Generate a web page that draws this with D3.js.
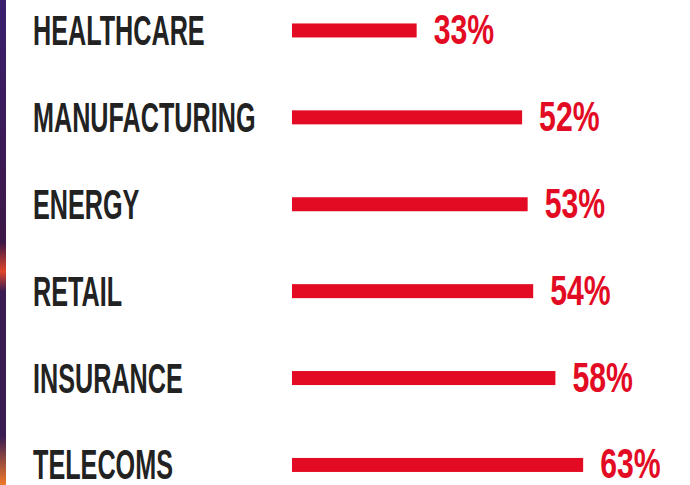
<!DOCTYPE html>
<html>
<head>
<meta charset="utf-8">
<script src="https://cdn.jsdelivr.net/npm/d3@7"></script>
<style>
  body { margin: 0; background: #fff; }
  svg text { font-family: "Liberation Sans", sans-serif; font-weight: bold; }
</style>
</head>
<body>
<svg id="chart"></svg>
<script>
// secteurs et pourcentages
const sectors = ["HEALTHCARE", "MANUFACTURING", "ENERGY", "RETAIL", "INSURANCE", "TELECOMS"];
const values = [33, 52, 53, 54, 58, 63];

const width = 690, height = 485;

const svg = d3.select("#chart")
  .attr("width", width)
  .attr("height", height);

// bande sombre à gauche (bord de l'image de fond)
const grad = svg.append("defs").append("linearGradient")
  .attr("id", "edge").attr("x1", 0).attr("x2", 0).attr("y1", 0).attr("y2", 1);
grad.append("stop").attr("offset", "0%").attr("stop-color", "#3a1f6e");
grad.append("stop").attr("offset", "50%").attr("stop-color", "#3d1746");
grad.append("stop").attr("offset", "56%").attr("stop-color", "#e0452a");
grad.append("stop").attr("offset", "60%").attr("stop-color", "#3a1c52");
grad.append("stop").attr("offset", "90%").attr("stop-color", "#3a1c52");
grad.append("stop").attr("offset", "100%").attr("stop-color", "#f07a2a");
svg.append("rect")
  .attr("x", 0).attr("y", 0)
  .attr("width", 6).attr("height", height)
  .attr("fill", "url(#edge)");

// échelles
const y = d3.scaleBand()
  .domain(sectors)
  .range([-13, 508.4])
  .paddingInner(0);

const x = d3.scaleLinear()
  .domain([0, 100])
  .range([233.5, 788.5]);

const barStart = 292;
const barH = 14;
const red = "#e30b24";

const rows = svg.selectAll(".row")
  .data(sectors.map((s, i) => ({sector: s, value: values[i]})))
  .enter().append("g")
  .attr("class", "row")
  .attr("transform", d => `translate(0,${y(d.sector) + y.bandwidth() / 2})`);

rows.append("rect")
  .attr("x", barStart)
  .attr("y", -barH / 2)
  .attr("width", d => x(d.value) - barStart)
  .attr("height", barH)
  .attr("fill", red);

// police condensée simulée par un étirement horizontal
rows.append("text")
  .attr("transform", "translate(33,14.5) scale(0.586,1)")
  .attr("font-size", 43)
  .attr("fill", "#222")
  .text(d => d.sector);

rows.append("text")
  .attr("transform", d => `translate(${x(d.value) + 17},13.5) scale(0.703,1)`)
  .attr("font-size", 43)
  .attr("fill", red)
  .text(d => d.value + "%");
</script>
</body>
</html>
